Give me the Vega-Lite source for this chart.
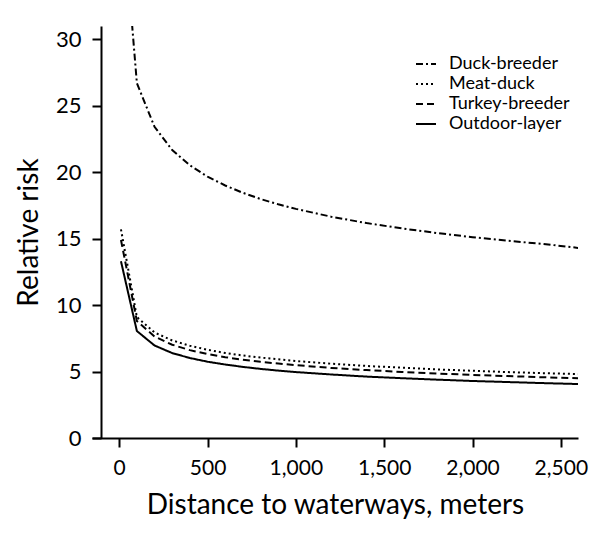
{
  "$schema": "https://vega.github.io/schema/vega-lite/v6.json",
  "width": 486,
  "height": 412,
  "autosize": {"type": "none"},
  "padding": {"left": 92, "top": 26, "right": 22, "bottom": 105},
  "background": "white",
  "config": {
    "view": {"stroke": null},
    "font": "Lato",
    "axis": {"grid": false, "domainColor": "black", "tickColor": "black", "domainWidth": 2, "tickWidth": 2, "tickSize": 9, "labelColor": "black", "titleColor": "black", "labelFont": "Lato", "titleFont": "Lato", "titleFontWeight": "normal", "labelFontSize": 21, "titleFontSize": 28}
  },
  "data": {"values": [
    {"d": 10, "rr": 41.3, "s": "Duck-breeder"},
    {"d": 100, "rr": 26.7, "s": "Duck-breeder"},
    {"d": 200, "rr": 23.41, "s": "Duck-breeder"},
    {"d": 300, "rr": 21.67, "s": "Duck-breeder"},
    {"d": 400, "rr": 20.52, "s": "Duck-breeder"},
    {"d": 500, "rr": 19.66, "s": "Duck-breeder"},
    {"d": 600, "rr": 19.0, "s": "Duck-breeder"},
    {"d": 700, "rr": 18.45, "s": "Duck-breeder"},
    {"d": 800, "rr": 17.98, "s": "Duck-breeder"},
    {"d": 900, "rr": 17.59, "s": "Duck-breeder"},
    {"d": 1000, "rr": 17.24, "s": "Duck-breeder"},
    {"d": 1200, "rr": 16.65, "s": "Duck-breeder"},
    {"d": 1400, "rr": 16.17, "s": "Duck-breeder"},
    {"d": 1600, "rr": 15.77, "s": "Duck-breeder"},
    {"d": 1800, "rr": 15.42, "s": "Duck-breeder"},
    {"d": 2000, "rr": 15.11, "s": "Duck-breeder"},
    {"d": 2200, "rr": 14.84, "s": "Duck-breeder"},
    {"d": 2400, "rr": 14.6, "s": "Duck-breeder"},
    {"d": 2600, "rr": 14.3, "s": "Duck-breeder"},
    {"d": 10, "rr": 15.7, "s": "Meat-duck"},
    {"d": 100, "rr": 9.1, "s": "Meat-duck"},
    {"d": 200, "rr": 7.94, "s": "Meat-duck"},
    {"d": 300, "rr": 7.34, "s": "Meat-duck"},
    {"d": 400, "rr": 6.94, "s": "Meat-duck"},
    {"d": 500, "rr": 6.64, "s": "Meat-duck"},
    {"d": 600, "rr": 6.4, "s": "Meat-duck"},
    {"d": 700, "rr": 6.21, "s": "Meat-duck"},
    {"d": 800, "rr": 6.05, "s": "Meat-duck"},
    {"d": 900, "rr": 5.92, "s": "Meat-duck"},
    {"d": 1000, "rr": 5.79, "s": "Meat-duck"},
    {"d": 1200, "rr": 5.59, "s": "Meat-duck"},
    {"d": 1400, "rr": 5.42, "s": "Meat-duck"},
    {"d": 1600, "rr": 5.29, "s": "Meat-duck"},
    {"d": 1800, "rr": 5.16, "s": "Meat-duck"},
    {"d": 2000, "rr": 5.06, "s": "Meat-duck"},
    {"d": 2200, "rr": 4.96, "s": "Meat-duck"},
    {"d": 2400, "rr": 4.88, "s": "Meat-duck"},
    {"d": 2600, "rr": 4.81, "s": "Meat-duck"},
    {"d": 10, "rr": 14.9, "s": "Turkey-breeder"},
    {"d": 100, "rr": 8.8, "s": "Turkey-breeder"},
    {"d": 200, "rr": 7.63, "s": "Turkey-breeder"},
    {"d": 300, "rr": 7.02, "s": "Turkey-breeder"},
    {"d": 400, "rr": 6.61, "s": "Turkey-breeder"},
    {"d": 500, "rr": 6.32, "s": "Turkey-breeder"},
    {"d": 600, "rr": 6.08, "s": "Turkey-breeder"},
    {"d": 700, "rr": 5.89, "s": "Turkey-breeder"},
    {"d": 800, "rr": 5.73, "s": "Turkey-breeder"},
    {"d": 900, "rr": 5.6, "s": "Turkey-breeder"},
    {"d": 1000, "rr": 5.48, "s": "Turkey-breeder"},
    {"d": 1200, "rr": 5.27, "s": "Turkey-breeder"},
    {"d": 1400, "rr": 5.11, "s": "Turkey-breeder"},
    {"d": 1600, "rr": 4.97, "s": "Turkey-breeder"},
    {"d": 1800, "rr": 4.85, "s": "Turkey-breeder"},
    {"d": 2000, "rr": 4.75, "s": "Turkey-breeder"},
    {"d": 2200, "rr": 4.66, "s": "Turkey-breeder"},
    {"d": 2400, "rr": 4.57, "s": "Turkey-breeder"},
    {"d": 2600, "rr": 4.5, "s": "Turkey-breeder"},
    {"d": 10, "rr": 13.3, "s": "Outdoor-layer"},
    {"d": 100, "rr": 8.05, "s": "Outdoor-layer"},
    {"d": 200, "rr": 6.96, "s": "Outdoor-layer"},
    {"d": 300, "rr": 6.39, "s": "Outdoor-layer"},
    {"d": 400, "rr": 6.02, "s": "Outdoor-layer"},
    {"d": 500, "rr": 5.74, "s": "Outdoor-layer"},
    {"d": 600, "rr": 5.53, "s": "Outdoor-layer"},
    {"d": 700, "rr": 5.35, "s": "Outdoor-layer"},
    {"d": 800, "rr": 5.2, "s": "Outdoor-layer"},
    {"d": 900, "rr": 5.07, "s": "Outdoor-layer"},
    {"d": 1000, "rr": 4.96, "s": "Outdoor-layer"},
    {"d": 1200, "rr": 4.78, "s": "Outdoor-layer"},
    {"d": 1400, "rr": 4.62, "s": "Outdoor-layer"},
    {"d": 1600, "rr": 4.5, "s": "Outdoor-layer"},
    {"d": 1800, "rr": 4.39, "s": "Outdoor-layer"},
    {"d": 2000, "rr": 4.29, "s": "Outdoor-layer"},
    {"d": 2200, "rr": 4.21, "s": "Outdoor-layer"},
    {"d": 2400, "rr": 4.13, "s": "Outdoor-layer"},
    {"d": 2600, "rr": 4.06, "s": "Outdoor-layer"}
  ]},
  "mark": {"type": "line", "clip": true, "color": "black", "strokeWidth": 2},
  "encoding": {
    "x": {"field": "d", "type": "quantitative", "scale": {"domain": [-154, 2597], "nice": false},
      "axis": {"values": [0, 500, 1000, 1500, 2000, 2500], "format": ",d", "title": "Distance to waterways, meters", "labelPadding": 10, "titlePadding": 13}},
    "y": {"field": "rr", "type": "quantitative", "scale": {"domain": [0, 31], "nice": false},
      "axis": {"values": [0, 5, 10, 15, 20, 25, 30], "title": "Relative risk", "offset": -9, "labelPadding": 11, "labelFontSize": 22, "titlePadding": 12}},
    "strokeDash": {"field": "s", "type": "nominal",
      "scale": {"domain": ["Duck-breeder", "Meat-duck", "Turkey-breeder", "Outdoor-layer"], "range": [[7, 3, 2, 3], [2, 3], [7, 4], [1, 0]]},
      "legend": {"title": null, "orient": "none", "legendX": 323, "legendY": 27, "symbolType": "stroke", "symbolSize": 400, "symbolStrokeWidth": 2, "symbolStrokeColor": "black", "labelFontSize": 18, "labelFont": "Lato", "labelColor": "black", "rowPadding": 0, "labelOffset": 12}}
  }
}
